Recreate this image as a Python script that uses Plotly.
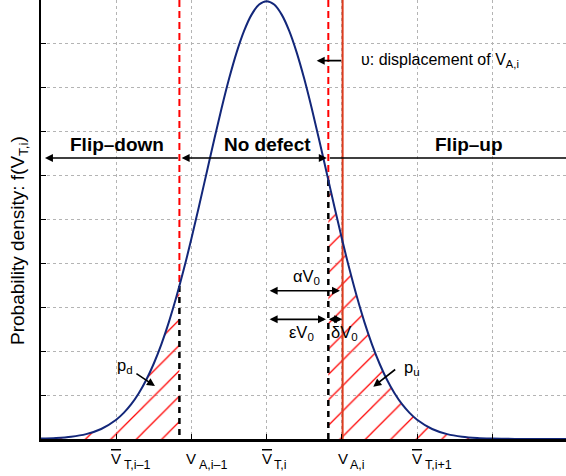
import plotly.graph_objects as go

# ---- data ----
x_pts = [-3.0, -2.8, -2.6, -2.4, -2.2, -2.0, -1.9, -1.8, -1.7, -1.6, -1.5, -1.4, -1.3, -1.2, -1.1,
         -1.0, -0.9, -0.8, -0.7, -0.6, -0.5, -0.4, -0.3, -0.2, -0.1, 0.0,
         0.1, 0.2, 0.3, 0.4, 0.5, 0.6, 0.7, 0.8, 0.9, 1.0, 1.1, 1.2, 1.3, 1.4, 1.5,
         1.6, 1.7, 1.8, 1.9, 2.0, 2.2, 2.4, 2.6, 2.8, 3.0, 3.2, 3.4, 3.6, 3.8, 4.0]
density = [0.00044, 0.00109, 0.00254, 0.00554, 0.01137, 0.02191, 0.02972, 0.03967, 0.05215, 0.06749,
           0.08598, 0.10785, 0.13317, 0.16190, 0.19377, 0.22831, 0.26485, 0.30246, 0.34008, 0.37642,
           0.41020, 0.44009, 0.46482, 0.48334, 0.49480, 0.49868,
           0.49480, 0.48334, 0.46482, 0.44009, 0.41020, 0.37642, 0.34008, 0.30246, 0.26485, 0.22831,
           0.19377, 0.16190, 0.13317, 0.10785, 0.08598, 0.06749, 0.05215, 0.03967, 0.02972, 0.02191,
           0.01137, 0.00554, 0.00254, 0.00109, 0.00044, 0.00017, 0.00006, 0.00002, 0.00001, 0.0]

V_A_prev = -1.16      # left threshold (flip-down boundary)
dens_A_prev = 0.1743
V_right = 0.82        # right threshold (flip-up boundary)
dens_right = 0.2949
V_A_i = 1.01          # displaced V_A,i
y_top = 0.5
y_arrow = 0.32

tick_pos = [-2, -1, 0, V_A_i, 2]
tick_main = ["V", "V", "V", "V", "V"]
tick_sub = ["T,i–1", "A,i–1", "T,i", "A,i", "T,i+1"]
tick_bar = [True, False, True, False, True]

FONT = "Liberation Sans, Arial, Helvetica, sans-serif"
NAVY = "#13277a"
RED = "#ff0000"
RED2 = "#dc3c1e"

fig = go.Figure()

# hatched tails
lx = [x for x in x_pts if x < V_A_prev] + [V_A_prev]
ly = [d for x, d in zip(x_pts, density) if x < V_A_prev] + [dens_A_prev]
rx = [V_right] + [x for x in x_pts if x > V_right]
ry = [dens_right] + [d for x, d in zip(x_pts, density) if x > V_right]
for xs, ys in ((lx, ly), (rx, ry)):
    fig.add_trace(go.Scatter(x=xs, y=ys, mode="lines", line=dict(width=0, shape="spline"),
                             fill="tozeroy", fillcolor="rgba(0,0,0,0)",
                             fillpattern=dict(shape="/", fgcolor=RED, bgcolor="rgba(0,0,0,0)",
                                              size=18, solidity=0.07, fgopacity=1),
                             hoverinfo="skip", showlegend=False))

# threshold lines
for xv, dv in ((V_A_prev, dens_A_prev), (V_right, dens_right)):
    fig.add_trace(go.Scatter(x=[xv, xv], y=[y_top, dv], mode="lines",
                             line=dict(color=RED, width=2, dash="7px,4px"), showlegend=False))
    fig.add_trace(go.Scatter(x=[xv, xv], y=[dv, 0], mode="lines",
                             line=dict(color="black", width=2.5, dash="6px,5px"), showlegend=False))
fig.add_trace(go.Scatter(x=[V_A_i, V_A_i], y=[0, y_top], mode="lines",
                         line=dict(color=RED2, width=2), showlegend=False))

# density curve
fig.add_trace(go.Scatter(x=x_pts, y=density, mode="lines",
                         line=dict(color=NAVY, width=2, shape="spline"), showlegend=False))

ann = []
def arrow(x, y, ax, ay, both=False, head=2):
    ann.append(dict(x=x, y=y, ax=ax, ay=ay, xref="x", yref="y", axref="x", ayref="y",
                    text="", showarrow=True, arrowhead=head, arrowsize=1, arrowwidth=1.6,
                    arrowcolor="black", arrowside="end+start" if both else "end",
                    startarrowhead=head, startarrowsize=1))
def label(x, y, text, size=16, bold=False, xanchor="center", yanchor="middle"):
    ann.append(dict(x=x, y=y, xref="x", yref="y", text=("<b>%s</b>" % text) if bold else text,
                    showarrow=False, xanchor=xanchor, yanchor=yanchor,
                    font=dict(family=FONT, size=size, color="black")))

# region arrows
arrow(-2.948, y_arrow, V_A_prev, y_arrow)
arrow(0.80, y_arrow, -1.15, y_arrow, both=True)
arrow(4.5, y_arrow, V_right, y_arrow)
label(-1.99, 0.335, "Flip–down", size=19, bold=True)
label(0.017, 0.335, "No defect", size=19, bold=True)
label(2.69, 0.335, "Flip–up", size=19, bold=True)

# displacement
arrow(0.665, 0.4309, V_A_i, 0.4309)
label(1.227, 0.431, "υ: displacement of V<sub>A,i</sub>", xanchor="left")

# alpha / epsilon / delta
arrow(0.975, 0.1689, 0.02, 0.1689, both=True)
arrow(0.789, 0.1363, 0.02, 0.1363, both=True)
arrow(1.005, 0.1363, 0.806, 0.1363, both=True)
label(0.527, 0.184, "αV<sub>0</sub>", size=16.5)
label(0.463, 0.121, "εV<sub>0</sub>", size=16.5)
label(1.041, 0.121, "δV<sub>0</sub>", size=16.5)

# p_d / p_u
arrow(-1.485, 0.0604, -1.751, 0.0755)
arrow(1.418, 0.0596, 1.729, 0.0805)
label(-1.88, 0.083, "p<sub>d</sub>", size=16.5)
label(1.93, 0.081, "p<sub>u</sub>", size=16.5)

# custom x tick labels: main letter centred on the tick, subscript to its right
for xp, m, s, b in zip(tick_pos, tick_main, tick_sub, tick_bar):
    main = "<span style='text-decoration:overline'>%s</span>" % m if b else m
    ann.append(dict(x=xp, y=0, xref="x", yref="paper", xanchor="center", yanchor="top",
                    xshift=0, yshift=-8.5, showarrow=False, text=main,
                    font=dict(family=FONT, size=15, color="black")))
    ann.append(dict(x=xp, y=0, xref="x", yref="paper", xanchor="left", yanchor="top",
                    xshift=5.5, yshift=-16.5, showarrow=False, text=s,
                    font=dict(family=FONT, size=12.5, color="black")))

# y-axis title
ann.append(dict(x=-0.042, y=(439 - 240) / 439, xref="paper", yref="paper", textangle=-90,
                text="Probability density: f(V<sub>T,i</sub>)", showarrow=False,
                xanchor="center", yanchor="middle",
                font=dict(family=FONT, size=19, color="black")))

fig.update_layout(
    width=566, height=476, margin=dict(l=41, r=0, t=0, b=37),
    paper_bgcolor="white", plot_bgcolor="white", showlegend=False,
    annotations=ann,
    xaxis=dict(range=[-3, 3.98], tickmode="linear", tick0=-3, dtick=1, showticklabels=False,
               ticks="inside", ticklen=5, tickcolor="black", showgrid=True, gridcolor="#b4b4b4",
               griddash="dot", gridwidth=1, zeroline=False, showline=True, linecolor="black",
               linewidth=2.5),
    yaxis=dict(range=[0, 0.5], tickmode="linear", tick0=0, dtick=0.05, showticklabels=False,
               ticks="inside", ticklen=5, tickcolor="black", showgrid=True, gridcolor="#b4b4b4",
               griddash="dot", gridwidth=1, zeroline=False, showline=True, linecolor="black",
               linewidth=2),
)
fig.write_html("out.html")
